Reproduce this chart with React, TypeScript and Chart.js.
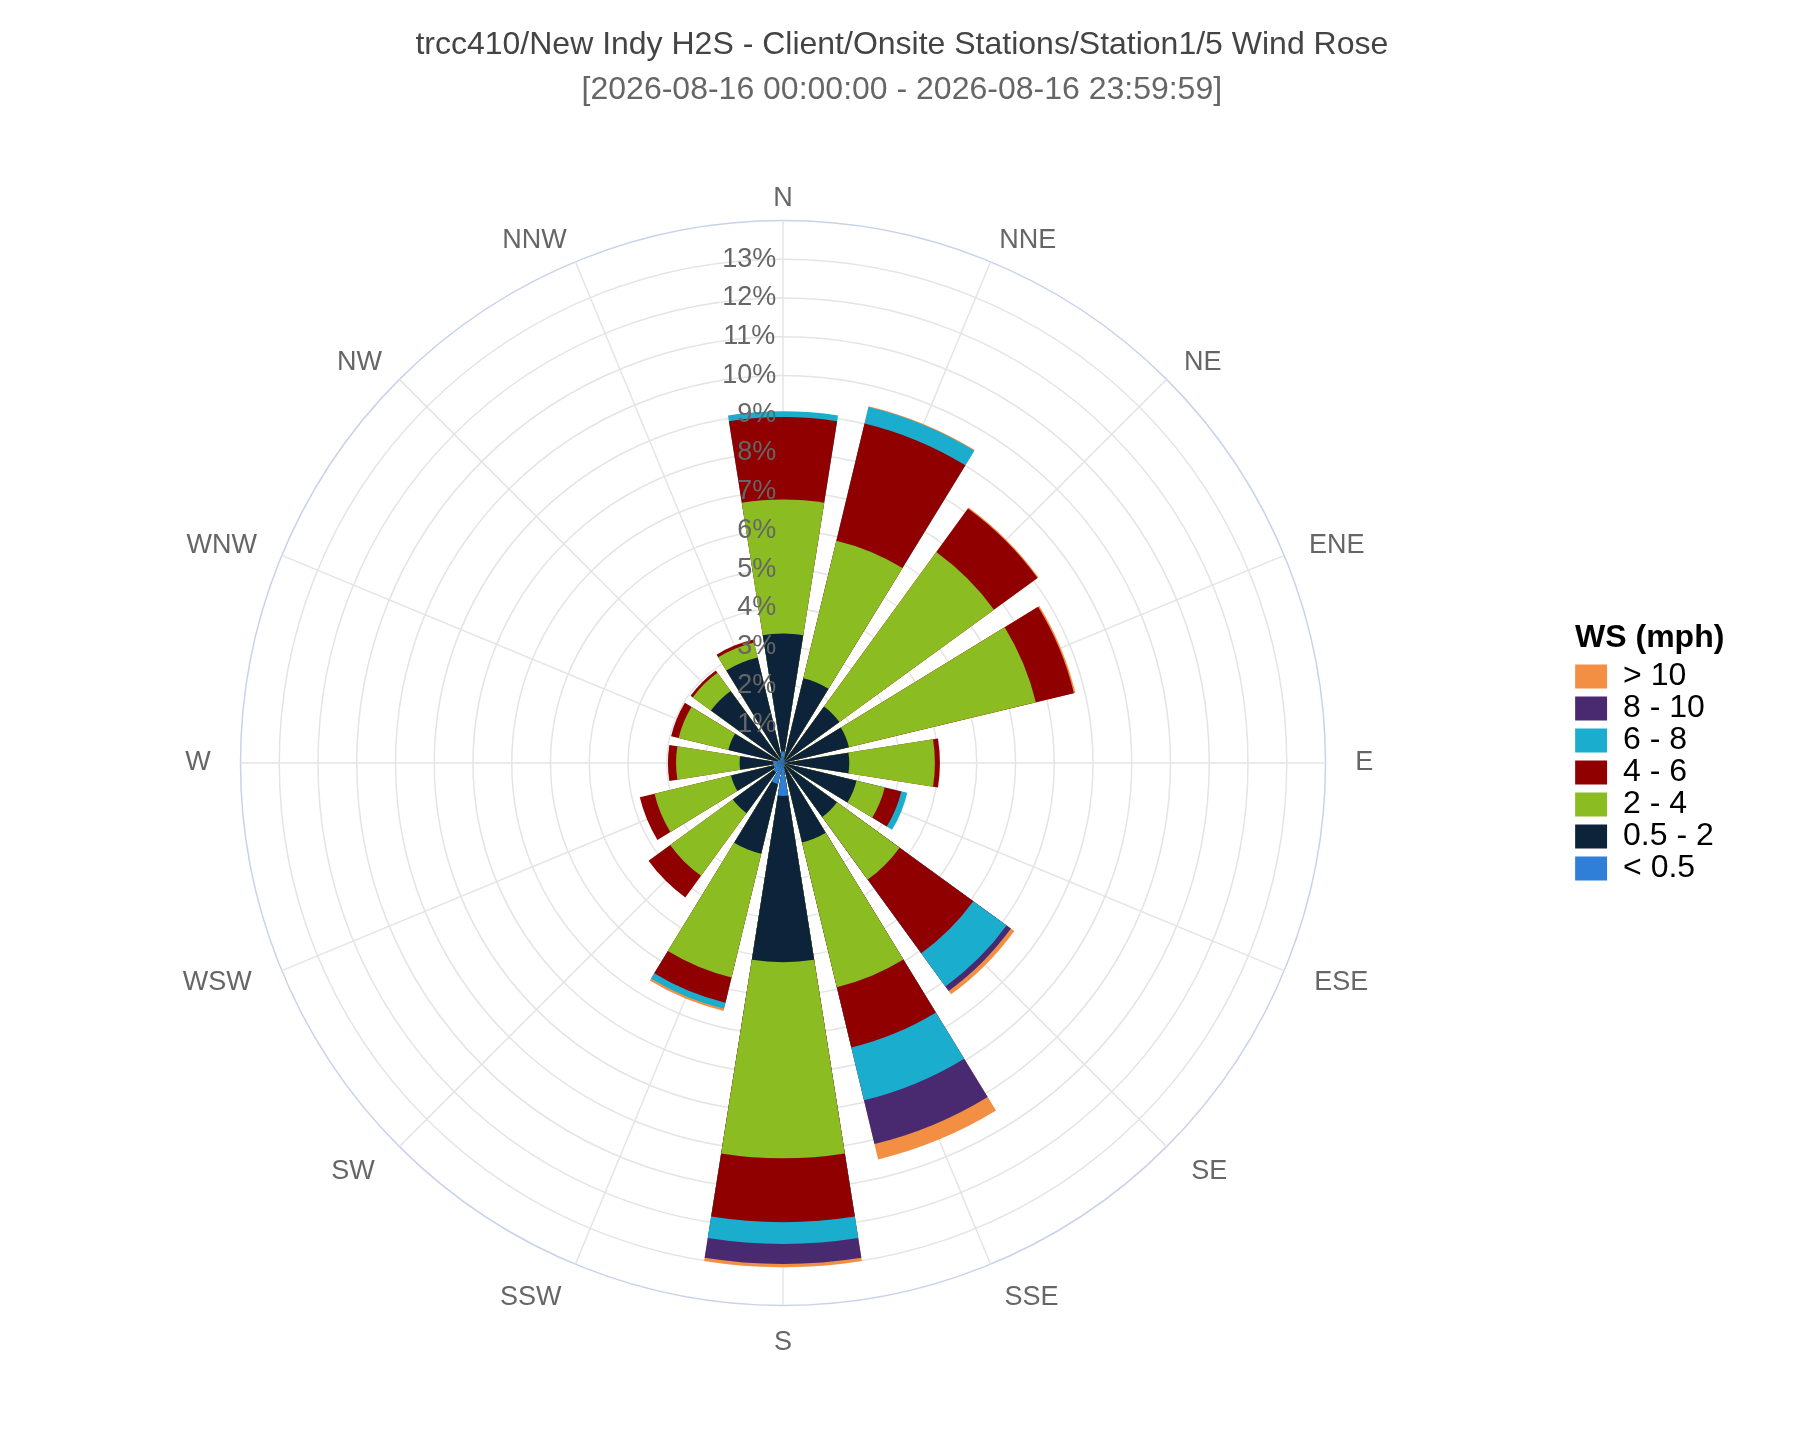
import React, { useEffect, useRef } from 'react';
import Chart from 'chart.js/auto';

const TITLE = 'trcc410/New Indy H2S - Client/Onsite Stations/Station1/5 Wind Rose';
const SUBTITLE = '[2026-08-16 00:00:00 - 2026-08-16 23:59:59]';

const directions = ['N', 'NNE', 'NE', 'ENE', 'E', 'ESE', 'SE', 'SSE', 'S', 'SSW', 'SW', 'WSW', 'W', 'WNW', 'NW', 'NNW'];

// frequency in % per direction, one array per wind speed bin
const below05 = [0.30, 0.10, 0.05, 0.05, 0.10, 0.05, 0.05, 0.10, 0.85, 0.56, 0.30, 0.25, 0.25, 0.15, 0.10, 0.15];
const from05to2 = [3.04, 2.15, 1.75, 1.70, 1.61, 1.90, 1.67, 2.01, 4.29, 1.85, 1.30, 1.13, 0.87, 1.30, 2.20, 2.65];
const from2to4 = [3.46, 3.65, 4.93, 4.96, 2.21, 0.75, 2.00, 3.84, 5.06, 3.28, 2.00, 2.03, 1.64, 1.32, 0.58, 0.40];
const from4to6 = [2.13, 3.11, 1.39, 1.01, 0.13, 0.44, 2.35, 1.60, 1.65, 0.67, 0.69, 0.39, 0.21, 0.20, 0.07, 0.08];
const from6to8 = [0.15, 0.44, 0, 0, 0, 0.16, 1.06, 1.40, 0.56, 0.16, 0, 0, 0, 0, 0, 0];
const from8to10 = [0, 0, 0, 0, 0, 0, 0.14, 1.16, 0.52, 0, 0, 0, 0, 0, 0, 0];
const above10 = [0, 0.02, 0.03, 0.04, 0, 0, 0.11, 0.41, 0.08, 0.06, 0, 0, 0, 0, 0, 0];

const speedBins = ['< 0.5', '0.5 - 2', '2 - 4', '4 - 6', '6 - 8', '8 - 10', '> 10'];
const binValues = [below05, from05to2, from2to4, from4to6, from6to8, from8to10, above10];
const binColors = ['#2f7ed8', '#0d233a', '#8bbc21', '#910000', '#1aadce', '#492970', '#f28f43'];

const radialMax = 14;
const BAR_DEG = 18;
const SLOT_DEG = 360 / directions.length;

// polarArea lays its arcs back to back starting at north, so every bar is followed
// by an empty gap arc and the N bar is split in two halves around the top axis
function toSegments(values: number[]): number[] {
  const out = [values[0], 0];
  for (let i = 1; i < values.length; i++) out.push(values[i], 0);
  out.push(values[0]);
  return out;
}

const segmentAngles: number[] = [BAR_DEG / 2, SLOT_DEG - BAR_DEG];
for (let i = 1; i < directions.length; i++) segmentAngles.push(BAR_DEG, SLOT_DEG - BAR_DEG);
segmentAngles.push(BAR_DEG / 2);

// stacked look: each bin is drawn out to its cumulative total, smaller totals on top
const datasets = speedBins.map((label, b) => {
  const cumulative = directions.map((_, d) => {
    if (!(binValues[b][d] > 0)) return 0;
    let sum = 0;
    for (let k = 0; k <= b; k++) sum += binValues[k][d];
    return sum;
  });
  return {
    label,
    data: toSegments(cumulative),
    backgroundColor: binColors[b],
    borderWidth: 0,
    angle: (ctx: any) => segmentAngles[ctx.dataIndex],
  };
});

export default function App() {
  const canvasRef = useRef<HTMLCanvasElement | null>(null);

  useEffect(() => {
    if (!canvasRef.current) return;
    Chart.defaults.font.family = '"Liberation Sans", Arial, Helvetica, sans-serif';

    const chart = new Chart(canvasRef.current, {
      type: 'polarArea',
      data: { labels: directions, datasets: datasets as any },
      options: {
        responsive: false,
        animation: false,
        layout: { padding: { top: 0, left: 0, right: -21.7, bottom: 89.5 } },
        plugins: {
          title: {
            display: true,
            text: TITLE,
            color: '#444',
            font: { size: 32, weight: 'normal' },
            padding: { top: 26.1, bottom: 0 },
          },
          subtitle: {
            display: true,
            text: SUBTITLE,
            color: '#666',
            font: { size: 32 },
            padding: { top: 6.6, bottom: 82 },
          },
          legend: {
            position: 'right',
            align: 'start',
            onClick: () => {},
            title: {
              display: true,
              text: 'WS (mph)',
              position: 'start',
              color: '#000',
              font: { size: 32, weight: 'bold' },
              padding: { top: 622, bottom: 0 },
            },
            labels: {
              boxWidth: 32,
              boxHeight: 24,
              padding: 0,
              color: '#444',
              font: { size: 32 },
              // trailing spaces keep the legend column as wide as the reference's
              generateLabels: (c: any) =>
                c.data.datasets
                  .map((ds: any, i: number) => ({
                    text: String(ds.label).padEnd(17, '\u00a0'),
                    fillStyle: binColors[i],
                    strokeStyle: binColors[i],
                    lineWidth: 0,
                    hidden: false,
                    datasetIndex: i,
                  }))
                  .reverse(),
            },
          },
          tooltip: { enabled: false },
        },
        scales: {
          r: {
            min: 0,
            max: radialMax,
            startAngle: 0,
            grid: {
              circular: true,
              lineWidth: 1.5,
              color: (ctx: any) => (ctx.tick && ctx.tick.value === radialMax ? '#c8d2ea' : '#e4e4e4'),
            },
            angleLines: { display: true, color: '#e4e4e4', lineWidth: 1.5 },
            pointLabels: {
              display: true,
              color: '#666',
              // zero line height centres each label on its anchor point;
              // labels sit a little lower than the ring, hence the cosine term
              padding: (ctx: any) => 14.15 - 7.35 * Math.cos((ctx.index * 2 * Math.PI) / directions.length),
              font: { size: 27, lineHeight: 0 },
            },
            ticks: {
              stepSize: 1,
              z: 1,
              color: '#666',
              showLabelBackdrop: false,
              font: { size: 27 },
              // labels sit left of the north axis, as in the reference
              callback: (value: any) => {
                if (value >= radialMax) return '';
                const text = `${value}%`;
                return text + '\u00a0'.repeat(2 * text.length + 3);
              },
            },
          },
        },
      },
    });

    return () => chart.destroy();
  }, []);

  return (
    <div style={{ position: 'absolute', left: -9, top: 0 }}>
      <canvas ref={canvasRef} width={1800} height={1440} />
    </div>
  );
}
